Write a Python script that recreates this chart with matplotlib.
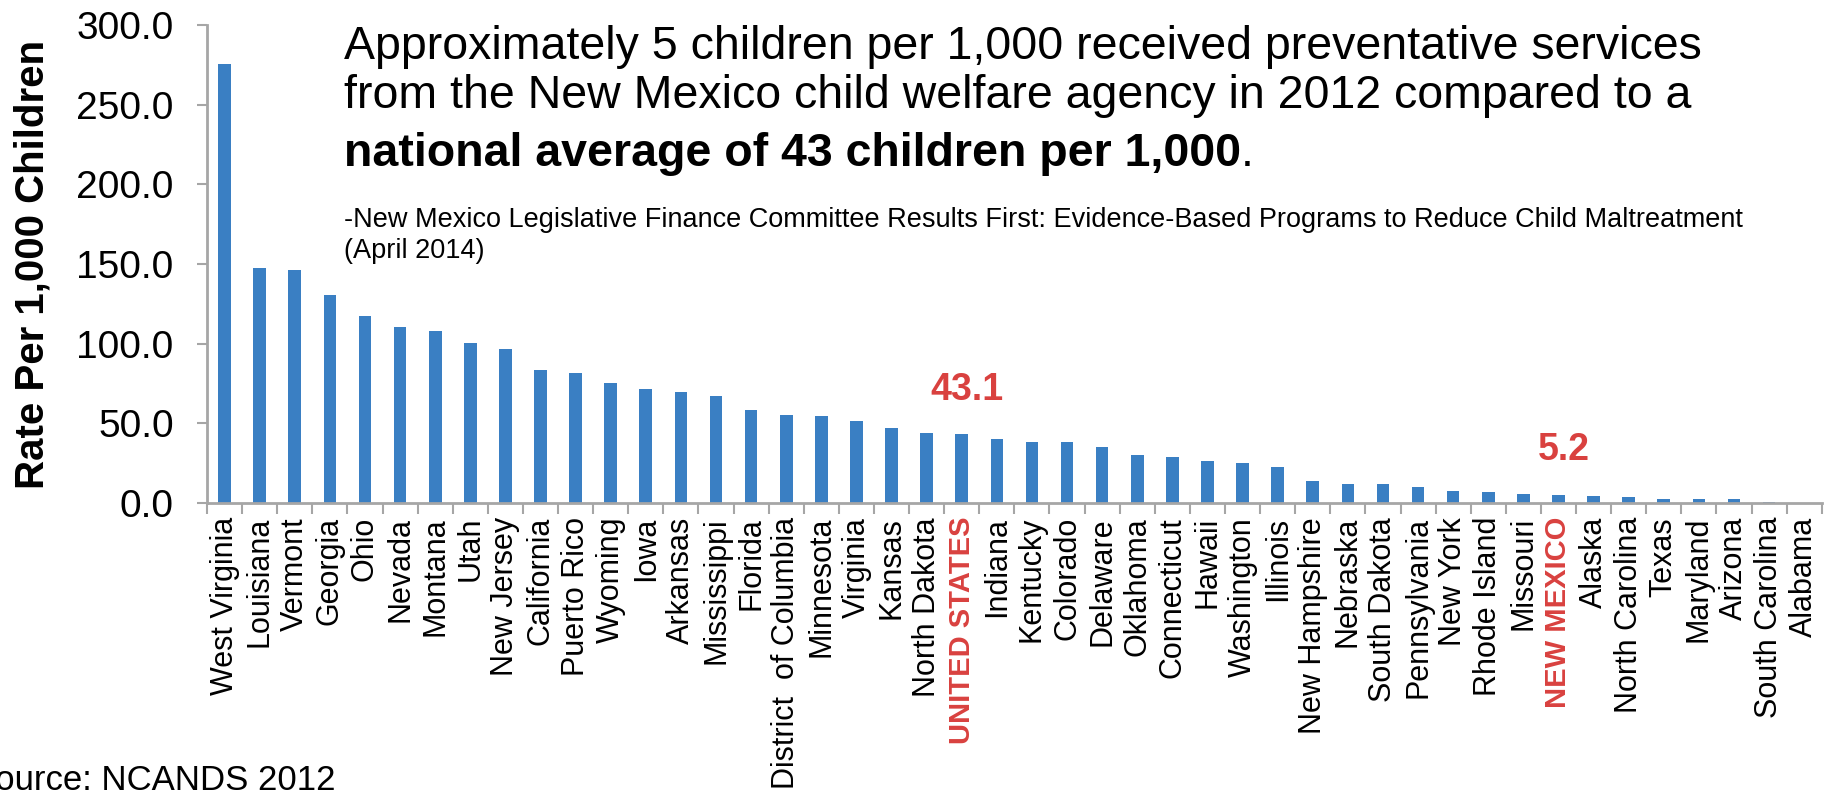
import matplotlib.pyplot as plt
import numpy as np

plt.rcParams['font.family'] = ['Liberation Sans', 'DejaVu Sans']

states = ['West Virginia', 'Louisiana', 'Vermont', 'Georgia', 'Ohio', 'Nevada',
          'Montana', 'Utah', 'New Jersey', 'California', 'Puerto Rico', 'Wyoming',
          'Iowa', 'Arkansas', 'Mississippi', 'Florida', 'District  of Columbia',
          'Minnesota', 'Virginia', 'Kansas', 'North Dakota', 'UNITED STATES',
          'Indiana', 'Kentucky', 'Colorado', 'Delaware', 'Oklahoma', 'Connecticut',
          'Hawaii', 'Washington', 'Illinois', 'New Hampshire', 'Nebraska',
          'South Dakota', 'Pennsylvania', 'New York', 'Rhode Island', 'Missouri',
          'NEW MEXICO', 'Alaska', 'North Carolina', 'Texas', 'Maryland', 'Arizona',
          'South Carolina', 'Alabama']
rates = [275.7, 147.7, 146.4, 130.8, 117.5, 110.5, 108.0, 100.2, 96.4, 83.3,
         81.6, 75.3, 71.7, 69.6, 67.5, 58.4, 55.1, 54.6, 51.3, 47.3, 43.7, 43.1,
         40.1, 38.4, 38.4, 35.0, 30.3, 28.8, 26.7, 25.0, 22.8, 13.9, 12.2, 11.7,
         10.0, 7.5, 6.8, 6.0, 5.2, 4.5, 4.0, 2.5, 2.5, 2.3, 0.5, 0.3]
highlight = ['UNITED STATES', 'NEW MEXICO']
yticks = [0, 50, 100, 150, 200, 250, 300]

blue = '#3a7fc3'
red = '#d9413f'
gray = '#a6a6a6'

fig = plt.figure(figsize=(18.37, 7.96), dpi=100)
ax = fig.add_axes([0.1127, 0.368, 0.879, 0.6006])

x = np.arange(len(states))
ax.bar(x, rates, width=0.36, color=blue)

ax.set_xlim(-0.5, len(states) - 0.5)
ax.set_ylim(0, 300)
ax.set_yticks(yticks)
ax.set_yticklabels([f'{v:.1f}' for v in yticks], fontsize=28)
ax.set_ylabel('Rate Per 1,000 Children', fontsize=29, fontweight='bold', labelpad=18)

# labels sit under the bars, tick marks sit between them
ax.set_xticks(x)
ax.set_xticklabels(states, rotation=90, fontsize=22)
ax.set_xticks(np.arange(len(states) + 1) - 0.5, minor=True)
ax.tick_params(axis='x', which='major', length=0, pad=10)
ax.tick_params(axis='x', which='minor', length=8, width=1.5, color=gray, direction='out')
ax.tick_params(axis='y', length=7, width=1.5, color=gray, direction='out', pad=17)
for lbl in ax.get_xticklabels():
    if lbl.get_text() in highlight:
        lbl.set_color(red)
        lbl.set_fontweight('bold')
        lbl.set_fontsize(21)

for side in ['top', 'right']:
    ax.spines[side].set_visible(False)
for side in ['left', 'bottom']:
    ax.spines[side].set_color(gray)
    ax.spines[side].set_linewidth(2)

for name in highlight:
    i = states.index(name)
    ax.annotate(f'{rates[i]:.1f}', xy=(i, rates[i]), xytext=(4, 19),
                textcoords='offset points', ha='center', va='bottom',
                fontsize=27, fontweight='bold', color=red)

tx = 0.187
fig.text(tx, 0.941, 'Approximately 5 children per 1,000 received preventative services',
         fontsize=33.5, va='center', ha='left')
fig.text(tx, 0.879, 'from the New Mexico child welfare agency in 2012 compared to a',
         fontsize=33.5, va='center', ha='left')
bold = fig.text(tx, 0.806, 'national average of 43 children per 1,000',
                fontsize=33.5, fontweight='bold', va='center', ha='left')
ax.annotate('.', xy=(1, 0), xycoords=bold, va='bottom', ha='left', fontsize=33.5)

fig.text(tx, 0.724, '-New Mexico Legislative Finance Committee Results First: '
         'Evidence-Based Programs to Reduce Child Maltreatment',
         fontsize=19.5, va='center', ha='left')
fig.text(tx, 0.685, '(April 2014)', fontsize=19.5, va='center', ha='left')

fig.text(-0.015, 0.019, 'Source: NCANDS 2012', fontsize=25, va='center', ha='left')

fig.savefig('out.png', dpi=100)
